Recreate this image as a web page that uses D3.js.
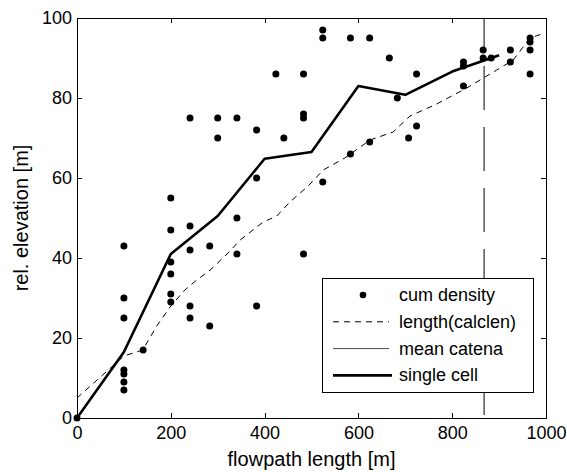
<!DOCTYPE html>
<html>
<head>
<meta charset="utf-8">
<script src="https://cdn.jsdelivr.net/npm/d3@7"></script>
<style>
  body { margin: 0; background: #fff; }
  svg { display: block; font-family: "Liberation Sans", Arial, sans-serif; }
  .axis path, .axis line { stroke: #000; stroke-width: 1; shape-rendering: crispEdges; }
  .axis text { font-size: 18px; fill: #000; }
</style>
</head>
<body>
<svg id="chart" width="567" height="472"></svg>
<script>
////////// DATA //////////

// cum density points (flowpath length, rel. elevation)
const densityX = [0, 100, 100, 100, 100, 100, 100, 100, 141,
  200, 200, 200, 200, 200, 200, 241, 241, 241, 241, 241, 283, 283,
  300, 300, 341, 341, 341, 383, 383, 383, 424, 441, 483, 483, 483, 483,
  524, 524, 524, 583, 583, 624, 624, 666, 683, 707, 724, 724,
  824, 824, 824, 866, 866, 883, 924, 924, 966, 966, 966, 966];
const densityY = [0, 43, 30, 25, 12, 11, 9, 7, 17,
  55, 47, 39, 36, 31, 29, 75, 48, 42, 28, 25, 43, 23,
  75, 70, 75, 50, 41, 72, 60, 28, 86, 70, 86, 76, 75, 41,
  97, 95, 59, 95, 66, 95, 69, 90, 80, 70, 86, 73,
  89, 88, 83, 92, 90, 90, 92, 89, 95, 94, 92, 86];

// length(calclen)
const calcX = [0, 100, 140, 170, 200, 230, 250, 284, 320, 348, 397, 426, 454, 493,
  525, 571, 625, 674, 710, 767, 831, 895, 930, 966, 991];
const calcY = [5, 15.5, 17, 23, 28, 32, 34, 37, 41, 44.5, 49, 50.5, 54, 58,
  62, 65, 69.5, 71.5, 75.5, 78.5, 82.5, 87, 89.5, 95, 96];

// single cell
const cellX = [0, 100, 200, 300, 400, 500, 600, 700, 800, 900];
const cellY = [0, 16.5, 41, 50.5, 64.8, 66.5, 83, 80.8, 86.6, 90.7];

// mean catena (vertical marker)
const catenaX = 868;

const xTicks = [0, 200, 400, 600, 800, 1000];
const yTicks = [0, 20, 40, 60, 80, 100];
const legendLabels = ["cum density", "length(calclen)", "mean catena", "single cell"];


////////// SETUP //////////

const margin = { top: 18, right: 21, bottom: 54, left: 77 };
const width = 567 - margin.left - margin.right;
const height = 472 - margin.top - margin.bottom;

const svg = d3.select("#chart");
svg.append("rect").attr("width", 567).attr("height", 472).attr("fill", "#fff");

const x = d3.scaleLinear().domain([0, 1000]).range([0, width]);
const y = d3.scaleLinear().domain([0, 100]).range([height, 0]);

const g = svg.append("g")
    .attr("transform", "translate(" + margin.left + "," + margin.top + ")");


////////// AXES //////////

let xAxis = g.append("g").attr("class", "axis")
    .attr("transform", "translate(0," + height + ")")
    .call(d3.axisBottom(x).tickValues(xTicks).tickFormat(d3.format("d"))
      .tickSizeInner(-5).tickSizeOuter(0).tickPadding(8));

// last label sits against the right edge of the figure
xAxis.selectAll(".tick text")
    .filter(d => d === 1000)
    .attr("text-anchor", "end")
    .attr("x", 20);

g.append("g").attr("class", "axis")
    .call(d3.axisLeft(y).tickValues(yTicks).tickSizeInner(-5).tickSizeOuter(0).tickPadding(5));

g.append("g").attr("class", "axis")
    .call(d3.axisTop(x).tickValues(xTicks).tickSizeInner(-5).tickSizeOuter(0).tickFormat(""));

g.append("g").attr("class", "axis")
    .attr("transform", "translate(" + width + ",0)")
    .call(d3.axisRight(y).tickValues(yTicks).tickSizeInner(-5).tickSizeOuter(0).tickFormat(""));

svg.append("text")
    .attr("x", margin.left + width / 2)
    .attr("y", 466)
    .attr("text-anchor", "middle")
    .style("font-size", "20px")
    .text("flowpath length [m]");

svg.append("text")
    .attr("transform", "translate(28," + (margin.top + height / 2) + ") rotate(-90)")
    .attr("text-anchor", "middle")
    .style("font-size", "20px")
    .text("rel. elevation [m]");


////////// LINES //////////

// mean catena marker, long dashes
g.append("line")
    .attr("x1", x(catenaX)).attr("x2", x(catenaX))
    .attr("y1", y(100)).attr("y2", y(0))
    .attr("stroke", "#000")
    .attr("stroke-width", 1)
    .attr("stroke-dasharray", "44,17")
    .attr("stroke-dashoffset", 13);

const line = d3.line()
    .x(d => x(d[0]))
    .y(d => y(d[1]));

g.append("path")
    .datum(d3.zip(calcX, calcY))
    .attr("d", line)
    .attr("fill", "none")
    .attr("stroke", "#000")
    .attr("stroke-width", 1)
    .attr("stroke-dasharray", "6,5");

g.append("path")
    .datum(d3.zip(cellX, cellY))
    .attr("d", line)
    .attr("fill", "none")
    .attr("stroke", "#000")
    .attr("stroke-width", 2.6)
    .attr("stroke-linejoin", "round");

g.append("g")
  .selectAll("circle")
    .data(d3.zip(densityX, densityY))
    .enter()
    .append("circle")
    .attr("cx", d => x(d[0]))
    .attr("cy", d => y(d[1]))
    .attr("r", 3.5)
    .attr("fill", "#000");


////////// LEGEND //////////

const legend = svg.append("g")
    .attr("transform", "translate(322,278)");

legend.append("rect")
    .attr("width", 211)
    .attr("height", 114)
    .attr("fill", "#fff")
    .attr("stroke", "#000")
    .attr("stroke-width", 1)
    .attr("shape-rendering", "crispEdges");

const rows = legend.selectAll(".row")
    .data(legendLabels)
    .enter()
    .append("g")
    .attr("transform", (d, i) => "translate(0," + (17 + i * 26.8) + ")");

rows.append("text")
    .attr("x", 77)
    .attr("y", 6)
    .style("font-size", "18px")
    .text(d => d);

rows.filter((d, i) => i === 0).append("circle")
    .attr("cx", 41).attr("r", 3.3).attr("fill", "#000");

rows.filter((d, i) => i === 1).append("line")
    .attr("x1", 11).attr("x2", 67)
    .attr("stroke", "#000").attr("stroke-width", 1)
    .attr("stroke-dasharray", "6,5");

rows.filter((d, i) => i === 2).append("line")
    .attr("x1", 11).attr("x2", 67)
    .attr("stroke", "#000").attr("stroke-width", 0.7);

rows.filter((d, i) => i === 3).append("line")
    .attr("x1", 11).attr("x2", 70)
    .attr("stroke", "#000").attr("stroke-width", 2.6);
</script>
</body>
</html>
